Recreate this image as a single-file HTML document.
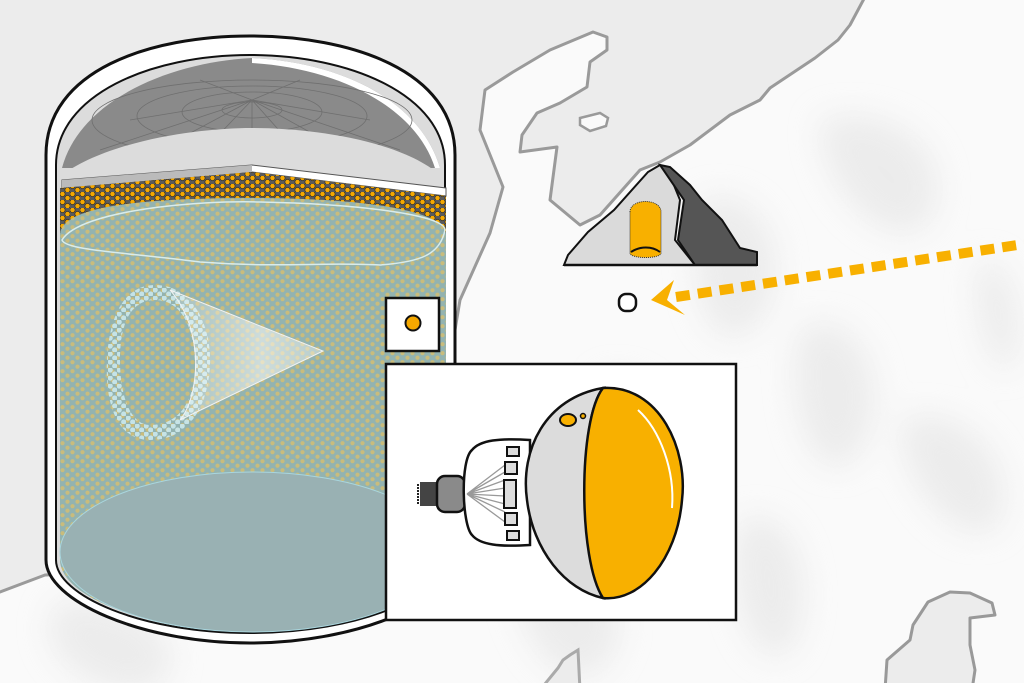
<!DOCTYPE html>
<html><head><meta charset="utf-8"><style>html,body{margin:0;padding:0;background:#fff}svg{display:block}</style></head>
<body>
<svg width="1024" height="683" viewBox="0 0 1024 683" xmlns="http://www.w3.org/2000/svg">
<defs>
<filter id="blur" x="-20%" y="-20%" width="140%" height="140%"><feGaussianBlur stdDeviation="16"/></filter>
<pattern id="wdots" width="10" height="9" patternUnits="userSpaceOnUse">
<rect width="10" height="9" fill="#93b3b0"/>
<circle cx="2.5" cy="2.2" r="2.1" fill="#c9bc7c"/><circle cx="7.5" cy="6.7" r="2.1" fill="#c9bc7c"/>
</pattern>
<pattern id="odots" width="10" height="8" patternUnits="userSpaceOnUse">
<rect width="10" height="8" fill="#5a5a5a"/>
<circle cx="2.5" cy="2" r="2.6" fill="#f5a800" stroke="#222" stroke-width=".6"/>
<circle cx="7.5" cy="6" r="2.6" fill="#f5a800" stroke="#222" stroke-width=".6"/>
</pattern>
<pattern id="bdots" width="9" height="8" patternUnits="userSpaceOnUse">
<circle cx="2.2" cy="2" r="2.6" fill="#c9e8ee"/><circle cx="6.7" cy="6" r="2.6" fill="#c9e8ee"/>
</pattern>
<linearGradient id="cone" x1="0" x2="1"><stop offset="0" stop-color="#fff" stop-opacity=".15"/><stop offset=".6" stop-color="#fff" stop-opacity=".55"/><stop offset="1" stop-color="#fff" stop-opacity=".35"/></linearGradient>
</defs>
<rect width="1024" height="683" fill="#fafafa"/>
<g filter="url(#blur)" fill="#dedede" opacity=".5">
<path d="M700,200 C760,180 800,260 760,320 C730,360 680,330 700,200Z"/>
<path d="M800,330 C850,300 900,380 860,450 C830,500 780,430 800,330Z"/>
<path d="M820,120 C900,100 960,160 930,220 C900,260 820,200 820,120Z"/>
<path d="M600,380 C650,360 700,440 680,520 C660,560 600,480 600,380Z"/>
<path d="M900,420 C960,400 1020,460 1000,520 C980,560 900,500 900,420Z"/>
<path d="M520,560 C600,540 650,620 600,670 C560,700 500,620 520,560Z"/>
<path d="M740,520 C800,500 820,600 790,650 C760,680 720,600 740,520Z"/>
<path d="M980,260 C1010,250 1030,330 1010,370 C990,380 970,300 980,260Z"/>
<path d="M60,600 C160,600 200,660 150,690 C100,700 20,650 60,600Z"/>
</g>
<path d="M-5,-5 L866,-5 L850,25 L838,40 L815,58 L770,88 L760,100 L730,115 L690,145 L660,162 L640,170 L600,215 L580,225 L550,200 L557,147 L520,152 L522,135 L537,113 L560,103 L587,87 L590,62 L607,50 L607,37 L593,32 L550,50 L513,72 L485,90 L480,130 L503,187 L490,233 L460,300 L455,330 L455,560 L45,575 L0,592 L-5,594 Z" fill="#ececec" stroke="#9a9a9a" stroke-width="3" stroke-linejoin="round"/>
<path d="M580,118 L600,113 L608,118 L606,126 L590,131 L580,125 Z" fill="#fafafa" stroke="#9a9a9a" stroke-width="2.5"/>
<path d="M885,690 L887,660 L910,640 L913,625 L928,602 L950,592 L970,593 L992,603 L995,615 L970,618 L970,645 L975,670 L972,690 Z" fill="#ececec" stroke="#999" stroke-width="3" stroke-linejoin="round"/>
<path d="M540,690 L558,668 L563,660 L570,655 L578,650 L580,690Z" fill="#ececec" stroke="#aaa" stroke-width="3"/>
<path d="M46,560 L46,155 C46,70 150,36 250,36 C350,36 455,70 455,155 L455,560 C455,600 360,643 250,643 C140,643 46,600 46,560 Z" fill="#fff" stroke="#111" stroke-width="3"/>
<path d="M56,560 L56,165 C56,95 150,55 250,55 C350,55 445,95 445,165 L445,560 C445,595 360,633 250,633 C140,633 56,595 56,560 Z" fill="#dcdcdc" stroke="#111" stroke-width="2"/>
<path d="M62,168 C80,100 170,62 252,58 C340,62 420,100 440,168 Z" fill="#8a8a8a"/>
<path d="M252,58 C340,62 420,100 440,168 L435,168 C415,105 335,68 252,63 Z" fill="#fff"/>
<g fill="none" stroke="#6f6f6f" stroke-width=".8">
<ellipse cx="252" cy="110" rx="30" ry="8"/><ellipse cx="252" cy="112" rx="70" ry="20"/><ellipse cx="252" cy="116" rx="115" ry="30"/><ellipse cx="252" cy="120" rx="160" ry="40"/>
<path d="M252,100 L100,150 M252,100 L140,160 M252,100 L190,165 M252,100 L252,168 M252,100 L310,165 M252,100 L360,160 M252,100 L400,150 M252,100 L130,120 M252,100 L370,120 M252,100 L200,80 M252,100 L300,80"/>
</g>
<path d="M62,175 C110,140 200,128 252,128 C310,128 400,140 440,175 L440,190 L62,190 Z" fill="#dcdcdc"/>
<path d="M62,180 L252,165 L446,188 L446,196 L252,172 L62,188 Z" fill="#fff" stroke="#555" stroke-width="1"/>
<path d="M62,180 L252,165 L252,172 L62,188Z" fill="#bbb"/>
<path d="M60,188 L252,172 L446,196 L446,240 L60,240 Z" fill="url(#odots)"/>
<path d="M60,235 C60,205 150,198 252,198 C350,198 446,208 446,235 L446,560 C446,595 360,630 252,630 C140,630 60,595 60,560 Z" fill="url(#wdots)"/>
<path d="M62,240 C80,210 200,200 260,202 C360,204 445,215 445,230 C440,255 420,262 380,265 C320,262 280,268 200,262 C120,252 65,250 62,240Z" fill="none" stroke="#d8ecec" stroke-width="1.5"/>
<ellipse cx="252" cy="552" rx="192" ry="80" fill="#99b1b3" stroke="#a9d6de" stroke-width="1"/>
<path fill-rule="evenodd" fill="url(#bdots)" opacity=".9" d="M155,285 C195,285 212,330 210,365 C208,405 190,440 150,440 C115,440 105,400 107,360 C109,315 125,285 155,285 Z M155,300 C125,300 120,335 120,360 C120,395 130,425 150,425 C180,425 195,400 195,365 C195,335 185,300 155,300 Z"/>
<path d="M170,290 L323,351 L180,420 C200,395 205,330 170,290Z" fill="url(#cone)" stroke="#f2f2f2" stroke-width="1"/>
<rect x="386" y="298" width="53" height="53" fill="#fff" stroke="#111" stroke-width="2.5"/>
<circle cx="413" cy="323" r="7.5" fill="#f5a800" stroke="#111" stroke-width="2"/>
<rect x="386" y="364" width="350" height="256" fill="#fff" stroke="#111" stroke-width="2.5"/>
<path d="M420,482 L440,482 L440,506 L420,506 Z" fill="#444"/>
<path d="M418,484 v20" stroke="#222" stroke-width="2" stroke-dasharray="2 1"/>
<rect x="437" y="476" width="28" height="36" rx="8" fill="#8a8a8a" stroke="#111" stroke-width="2.5"/>
<path d="M472,450 C480,440 500,438 530,440 L530,545 C500,547 480,545 472,535 C462,525 460,460 472,450 Z" fill="#fff" stroke="#111" stroke-width="2.5"/>
<g stroke="#999" stroke-width="1.3"><path d="M467,494 L505,465 M467,494 L505,472 M467,494 L505,480 M467,494 L505,488 M467,494 L505,496 M467,494 L505,504 M467,494 L505,512 M467,494 L505,522"/></g>
<g fill="#ddd" stroke="#111" stroke-width="2"><rect x="507" y="447" width="12" height="9"/><rect x="505" y="462" width="12" height="12"/><rect x="504" y="480" width="12" height="28"/><rect x="505" y="513" width="12" height="12"/><rect x="507" y="531" width="12" height="9"/></g>
<path d="M603,388 C545,398 520,450 527,500 C533,550 565,590 603,598 C580,560 578,420 603,388 Z" fill="#dcdcdc" stroke="#111" stroke-width="2.5"/>
<path d="M603,388 C660,385 688,450 682,500 C677,560 640,602 603,598 C578,560 578,420 603,388 Z" fill="#f8b000" stroke="#111" stroke-width="2.5"/>
<path d="M638,410 C660,430 675,470 672,508" fill="none" stroke="#fff" stroke-width="2"/>
<ellipse cx="568" cy="420" rx="8" ry="6" fill="#f8b000" stroke="#111" stroke-width="2"/>
<circle cx="583" cy="416" r="2.5" fill="#f8b000" stroke="#111" stroke-width="1.5"/>
<path d="M564,265 L568,255 L588,232 L614,210 L648,172 L660,165 L667,168 L680,200 L675,240 L695,265 Z" fill="#dadada" stroke="#111" stroke-width="2"/>
<path d="M660,165 L670,167 L690,185 L702,200 L722,220 L740,248 L757,252 L757,265 L695,265 L678,240 L684,200 Z" fill="#555" stroke="#111" stroke-width="2"/>
<path d="M564,265 L757,265" stroke="#111" stroke-width="2.5"/>
<path d="M630,212 C630,198 661,198 661,212 L661,253 C661,259 630,259 630,253 Z" fill="#f8b000" stroke="#333" stroke-width="1" stroke-dasharray="1 1"/>
<path d="M631,252 C640,246 652,246 660,252" fill="none" stroke="#111" stroke-width="2"/>
<rect x="619" y="294" width="17" height="17" rx="7" fill="#fff" stroke="#111" stroke-width="2.5"/>
<path d="M676,297 L1024,244" stroke="#f8b000" stroke-width="10" stroke-dasharray="14 8"/>
<path d="M674,280 L651,300 L685,315 L667,300 Z" fill="#f8b000"/>
</svg>
</body></html>
